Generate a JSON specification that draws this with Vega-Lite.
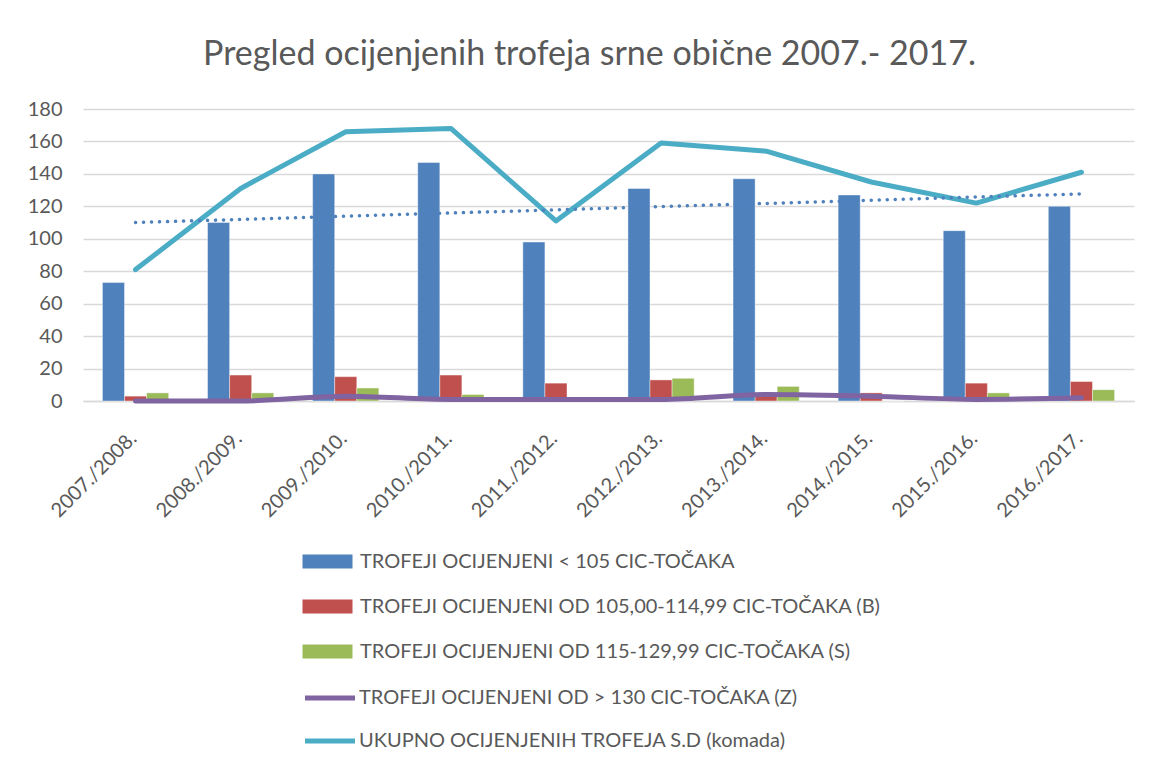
{
  "$schema": "https://vega.github.io/schema/vega-lite/v6.json",
  "autosize": {"type": "none"},
  "width": 1051,
  "height": 292,
  "padding": {"left": 83, "top": 109, "right": 35, "bottom": 368},
  "background": "white",
  "title": {
    "text": "Pregled ocijenjenih trofeja srne obične 2007.- 2017.",
    "font": "Lato",
    "fontSize": 34,
    "fontWeight": "normal",
    "color": "#595959",
    "offset": 27,
    "dx": -19
  },
  "config": {
    "view": {"stroke": null},
    "font": "Lato",
    "axis": {"labelColor": "#595959", "labelFont": "Lato", "labelFontSize": 20},
    "legend": {"labelFont": "Lato", "labelFontSize": 20, "labelColor": "#595959", "labelLimit": 900, "direction": "vertical", "orient": "none"}
  },
  "datasets": {
    "bars": [
      {"season": "2007./2008.", "series": "TROFEJI OCIJENJENI < 105 CIC-TOČAKA", "value": 73},
      {"season": "2008./2009.", "series": "TROFEJI OCIJENJENI < 105 CIC-TOČAKA", "value": 110},
      {"season": "2009./2010.", "series": "TROFEJI OCIJENJENI < 105 CIC-TOČAKA", "value": 140},
      {"season": "2010./2011.", "series": "TROFEJI OCIJENJENI < 105 CIC-TOČAKA", "value": 147},
      {"season": "2011./2012.", "series": "TROFEJI OCIJENJENI < 105 CIC-TOČAKA", "value": 98},
      {"season": "2012./2013.", "series": "TROFEJI OCIJENJENI < 105 CIC-TOČAKA", "value": 131},
      {"season": "2013./2014.", "series": "TROFEJI OCIJENJENI < 105 CIC-TOČAKA", "value": 137},
      {"season": "2014./2015.", "series": "TROFEJI OCIJENJENI < 105 CIC-TOČAKA", "value": 127},
      {"season": "2015./2016.", "series": "TROFEJI OCIJENJENI < 105 CIC-TOČAKA", "value": 105},
      {"season": "2016./2017.", "series": "TROFEJI OCIJENJENI < 105 CIC-TOČAKA", "value": 120},
      {"season": "2007./2008.", "series": "TROFEJI OCIJENJENI OD 105,00-114,99 CIC-TOČAKA (B)", "value": 3},
      {"season": "2008./2009.", "series": "TROFEJI OCIJENJENI OD 105,00-114,99 CIC-TOČAKA (B)", "value": 16},
      {"season": "2009./2010.", "series": "TROFEJI OCIJENJENI OD 105,00-114,99 CIC-TOČAKA (B)", "value": 15},
      {"season": "2010./2011.", "series": "TROFEJI OCIJENJENI OD 105,00-114,99 CIC-TOČAKA (B)", "value": 16},
      {"season": "2011./2012.", "series": "TROFEJI OCIJENJENI OD 105,00-114,99 CIC-TOČAKA (B)", "value": 11},
      {"season": "2012./2013.", "series": "TROFEJI OCIJENJENI OD 105,00-114,99 CIC-TOČAKA (B)", "value": 13},
      {"season": "2013./2014.", "series": "TROFEJI OCIJENJENI OD 105,00-114,99 CIC-TOČAKA (B)", "value": 4},
      {"season": "2014./2015.", "series": "TROFEJI OCIJENJENI OD 105,00-114,99 CIC-TOČAKA (B)", "value": 5},
      {"season": "2015./2016.", "series": "TROFEJI OCIJENJENI OD 105,00-114,99 CIC-TOČAKA (B)", "value": 11},
      {"season": "2016./2017.", "series": "TROFEJI OCIJENJENI OD 105,00-114,99 CIC-TOČAKA (B)", "value": 12},
      {"season": "2007./2008.", "series": "TROFEJI OCIJENJENI OD 115-129,99 CIC-TOČAKA (S)", "value": 5},
      {"season": "2008./2009.", "series": "TROFEJI OCIJENJENI OD 115-129,99 CIC-TOČAKA (S)", "value": 5},
      {"season": "2009./2010.", "series": "TROFEJI OCIJENJENI OD 115-129,99 CIC-TOČAKA (S)", "value": 8},
      {"season": "2010./2011.", "series": "TROFEJI OCIJENJENI OD 115-129,99 CIC-TOČAKA (S)", "value": 4},
      {"season": "2011./2012.", "series": "TROFEJI OCIJENJENI OD 115-129,99 CIC-TOČAKA (S)", "value": 0},
      {"season": "2012./2013.", "series": "TROFEJI OCIJENJENI OD 115-129,99 CIC-TOČAKA (S)", "value": 14},
      {"season": "2013./2014.", "series": "TROFEJI OCIJENJENI OD 115-129,99 CIC-TOČAKA (S)", "value": 9},
      {"season": "2014./2015.", "series": "TROFEJI OCIJENJENI OD 115-129,99 CIC-TOČAKA (S)", "value": 0},
      {"season": "2015./2016.", "series": "TROFEJI OCIJENJENI OD 115-129,99 CIC-TOČAKA (S)", "value": 5},
      {"season": "2016./2017.", "series": "TROFEJI OCIJENJENI OD 115-129,99 CIC-TOČAKA (S)", "value": 7}
    ],
    "purple": [
      {"season": "2007./2008.", "series": "TROFEJI OCIJENJENI OD > 130 CIC-TOČAKA (Z)", "value": 0},
      {"season": "2008./2009.", "series": "TROFEJI OCIJENJENI OD > 130 CIC-TOČAKA (Z)", "value": 0},
      {"season": "2009./2010.", "series": "TROFEJI OCIJENJENI OD > 130 CIC-TOČAKA (Z)", "value": 3},
      {"season": "2010./2011.", "series": "TROFEJI OCIJENJENI OD > 130 CIC-TOČAKA (Z)", "value": 1},
      {"season": "2011./2012.", "series": "TROFEJI OCIJENJENI OD > 130 CIC-TOČAKA (Z)", "value": 1},
      {"season": "2012./2013.", "series": "TROFEJI OCIJENJENI OD > 130 CIC-TOČAKA (Z)", "value": 1},
      {"season": "2013./2014.", "series": "TROFEJI OCIJENJENI OD > 130 CIC-TOČAKA (Z)", "value": 4},
      {"season": "2014./2015.", "series": "TROFEJI OCIJENJENI OD > 130 CIC-TOČAKA (Z)", "value": 3},
      {"season": "2015./2016.", "series": "TROFEJI OCIJENJENI OD > 130 CIC-TOČAKA (Z)", "value": 1},
      {"season": "2016./2017.", "series": "TROFEJI OCIJENJENI OD > 130 CIC-TOČAKA (Z)", "value": 2}
    ],
    "total": [
      {"season": "2007./2008.", "series": "UKUPNO OCIJENJENIH TROFEJA S.D (komada)", "value": 81},
      {"season": "2008./2009.", "series": "UKUPNO OCIJENJENIH TROFEJA S.D (komada)", "value": 131},
      {"season": "2009./2010.", "series": "UKUPNO OCIJENJENIH TROFEJA S.D (komada)", "value": 166},
      {"season": "2010./2011.", "series": "UKUPNO OCIJENJENIH TROFEJA S.D (komada)", "value": 168},
      {"season": "2011./2012.", "series": "UKUPNO OCIJENJENIH TROFEJA S.D (komada)", "value": 111},
      {"season": "2012./2013.", "series": "UKUPNO OCIJENJENIH TROFEJA S.D (komada)", "value": 159},
      {"season": "2013./2014.", "series": "UKUPNO OCIJENJENIH TROFEJA S.D (komada)", "value": 154},
      {"season": "2014./2015.", "series": "UKUPNO OCIJENJENIH TROFEJA S.D (komada)", "value": 135},
      {"season": "2015./2016.", "series": "UKUPNO OCIJENJENIH TROFEJA S.D (komada)", "value": 122},
      {"season": "2016./2017.", "series": "UKUPNO OCIJENJENIH TROFEJA S.D (komada)", "value": 141}
    ],
    "trend": [
      {"season": "2007./2008.", "value": 110},
      {"season": "2016./2017.", "value": 127.7}
    ]
  },
  "encoding": {
    "x": {
      "field": "season",
      "type": "nominal",
      "sort": null,
      "title": null,
      "scale": {"paddingInner": 0.37, "paddingOuter": 0.185},
      "axis": {
        "labelAngle": -45,
        "labelAlign": "right",
        "labelBaseline": "top",
        "labelPadding": 27,
        "labelOffset": -9,
        "ticks": false,
        "domain": true,
        "domainColor": "#d9d9d9",
        "domainWidth": 1.5
      }
    },
    "y": {
      "field": "value",
      "type": "quantitative",
      "title": null,
      "scale": {"domain": [0, 180], "nice": false},
      "axis": {
        "values": [0, 20, 40, 60, 80, 100, 120, 140, 160, 180],
        "domain": false,
        "ticks": false,
        "labelPadding": 21,
        "gridColor": "#d9d9d9",
        "gridWidth": 1.5
      }
    }
  },
  "layer": [
    {
      "data": {"name": "bars"},
      "mark": {"type": "bar", "stroke": "white", "strokeOpacity": 0.4, "strokeWidth": 1},
      "encoding": {
        "xOffset": {"field": "series", "type": "nominal", "sort": null, "scale": {"paddingInner": 0, "paddingOuter": 0}},
        "fill": {
          "field": "series",
          "type": "nominal",
          "title": null,
          "scale": {
            "domain": [
              "TROFEJI OCIJENJENI < 105 CIC-TOČAKA",
              "TROFEJI OCIJENJENI OD 105,00-114,99 CIC-TOČAKA (B)",
              "TROFEJI OCIJENJENI OD 115-129,99 CIC-TOČAKA (S)"
            ],
            "range": ["#4f81bd", "#c0504d", "#9bbb59"]
          },
          "legend": {
            "orient": "none",
            "legendX": 232,
            "legendY": 440,
            "labelOffset": 20,
            "rowPadding": 22,
            "symbolType": "M-2,-0.56H2V0.56H-2Z",
            "symbolSize": 625,
            "symbolStrokeWidth": 0
          }
        }
      }
    },
    {
      "data": {"name": "purple"},
      "mark": {"type": "line", "strokeWidth": 5, "interpolate": "monotone", "strokeCap": "round", "strokeJoin": "round"},
      "encoding": {
        "stroke": {
          "field": "series",
          "type": "nominal",
          "title": null,
          "scale": {
            "domain": [
              "TROFEJI OCIJENJENI OD > 130 CIC-TOČAKA (Z)",
              "UKUPNO OCIJENJENIH TROFEJA S.D (komada)"
            ],
            "range": ["#8064a2", "#4bacc6"]
          },
          "legend": {
            "orient": "none",
            "legendX": 232,
            "legendY": 574,
            "labelOffset": 14,
            "rowPadding": 18,
            "symbolType": "M-2,0H2",
            "symbolSize": 625,
            "symbolStrokeWidth": 5
          }
        }
      }
    },
    {
      "data": {"name": "total"},
      "mark": {"type": "line", "strokeWidth": 5, "strokeCap": "round", "strokeJoin": "round"},
      "encoding": {
        "stroke": {"field": "series", "type": "nominal", "title": null}
      }
    },
    {
      "data": {"name": "trend"},
      "mark": {"type": "line", "color": "#4f81bd", "strokeWidth": 3.5, "strokeCap": "round", "strokeDash": [0.1, 7.9]},
      "encoding": {}
    }
  ]
}
